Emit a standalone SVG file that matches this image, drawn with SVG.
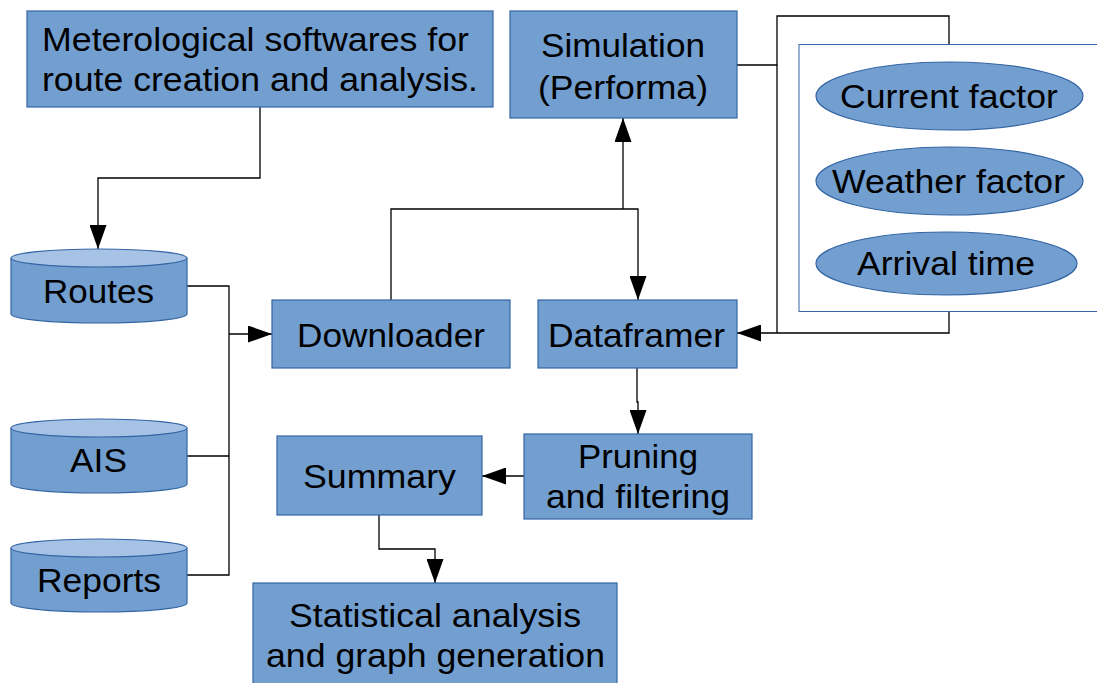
<svg xmlns="http://www.w3.org/2000/svg" width="1097" height="683" viewBox="0 0 1097 683">
  <style>
    .box { fill: #729fcf; stroke: #3465a4; stroke-width: 1.2; }
    .cyltop { fill: #a6c3e6; stroke: #3465a4; stroke-width: 1.2; }
    .panel { fill: #ffffff; stroke: #3465a4; stroke-width: 1; }
    .lbl { font-family: "Liberation Sans", Arial, sans-serif; font-size: 33px; fill: #000; text-anchor: middle; }
    .wire { fill: none; stroke: #000; stroke-width: 1.3; }
  </style>
  <defs>
    <marker id="arrow" viewBox="0 0 24 17" refX="24" refY="8.5" markerWidth="24" markerHeight="17" markerUnits="userSpaceOnUse" orient="auto">
      <path d="M0,0 L24,8.5 L0,17 Z" fill="#000"/>
    </marker>
  </defs>

  <rect width="1097" height="683" fill="#ffffff"/>

  <g id="connectors">
    <!-- software to routes -->
    <path class="wire" d="M260,107 V178 H98 V249" marker-end="url(#arrow)"/>
    <!-- data sources to downloader -->
    <path class="wire" d="M187,286 H229 V575 H187"/>
    <path class="wire" d="M187,456 H229"/>
    <path class="wire" d="M229,334 H272" marker-end="url(#arrow)"/>
    <!-- downloader to simulation and dataframer -->
    <path class="wire" d="M391,300 V209 H638 V300" marker-end="url(#arrow)"/>
    <path class="wire" d="M623,209 V118" marker-end="url(#arrow)"/>
    <!-- simulation to factors panel -->
    <path class="wire" d="M737,65 H777 V16 H949 V44"/>
    <path class="wire" d="M777,65 V333"/>
    <!-- factors panel back to dataframer -->
    <path class="wire" d="M949,311 V333 H737" marker-end="url(#arrow)"/>
    <!-- dataframer to pruning -->
    <path class="wire" d="M637,368 V402 H638 V434" marker-end="url(#arrow)"/>
    <!-- pruning to summary -->
    <path class="wire" d="M524,476 H482" marker-end="url(#arrow)"/>
    <!-- summary to statistics -->
    <path class="wire" d="M379,515 V549 H435 V583" marker-end="url(#arrow)"/>
  </g>

  <g id="software">
    <rect class="box" x="27" y="11" width="466" height="96"/>
    <text class="lbl" x="255.5" y="51" textLength="427" lengthAdjust="spacingAndGlyphs">Meterological softwares for</text>
    <text class="lbl" x="260" y="91" textLength="436" lengthAdjust="spacingAndGlyphs">route creation and analysis.</text>
  </g>

  <g id="simulation">
    <rect class="box" x="510" y="11" width="227" height="107"/>
    <text class="lbl" x="623" y="57" textLength="164" lengthAdjust="spacingAndGlyphs">Simulation</text>
    <text class="lbl" x="623" y="99" textLength="170" lengthAdjust="spacingAndGlyphs">(Performa)</text>
  </g>

  <g id="factors">
    <rect class="panel" x="799" y="44.5" width="310" height="267"/>
    <g id="current-factor">
      <ellipse class="box" cx="949.5" cy="96" rx="133.5" ry="34"/>
      <text class="lbl" x="949" y="107.5" textLength="218" lengthAdjust="spacingAndGlyphs">Current factor</text>
    </g>
    <g id="weather-factor">
      <ellipse class="box" cx="949.5" cy="181" rx="133.5" ry="34"/>
      <text class="lbl" x="948.5" y="193" textLength="233" lengthAdjust="spacingAndGlyphs">Weather factor</text>
    </g>
    <g id="arrival-time">
      <ellipse class="box" cx="946.5" cy="263.5" rx="130.5" ry="31.5"/>
      <text class="lbl" x="946" y="275" textLength="178" lengthAdjust="spacingAndGlyphs">Arrival time</text>
    </g>
  </g>

  <g id="routes">
    <path class="box" d="M11,258 V314 A88,9 0 0 0 187,314 V258"/>
    <ellipse class="cyltop" cx="99" cy="258" rx="88" ry="9"/>
    <text class="lbl" x="98.5" y="303" textLength="111" lengthAdjust="spacingAndGlyphs">Routes</text>
  </g>

  <g id="ais">
    <path class="box" d="M11,428 V484 A88,9 0 0 0 187,484 V428"/>
    <ellipse class="cyltop" cx="99" cy="428" rx="88" ry="9"/>
    <text class="lbl" x="98.5" y="472" textLength="57" lengthAdjust="spacingAndGlyphs">AIS</text>
  </g>

  <g id="reports">
    <path class="box" d="M11,548 V603 A88,9 0 0 0 187,603 V548"/>
    <ellipse class="cyltop" cx="99" cy="548" rx="88" ry="9"/>
    <text class="lbl" x="99" y="592" textLength="124" lengthAdjust="spacingAndGlyphs">Reports</text>
  </g>

  <g id="downloader">
    <rect class="box" x="272" y="300" width="238" height="68"/>
    <text class="lbl" x="391" y="347" textLength="188" lengthAdjust="spacingAndGlyphs">Downloader</text>
  </g>

  <g id="dataframer">
    <rect class="box" x="538" y="300" width="199" height="68"/>
    <text class="lbl" x="636.5" y="347" textLength="177" lengthAdjust="spacingAndGlyphs">Dataframer</text>
  </g>

  <g id="pruning">
    <rect class="box" x="524" y="434" width="228" height="85"/>
    <text class="lbl" x="638" y="468" textLength="120" lengthAdjust="spacingAndGlyphs">Pruning</text>
    <text class="lbl" x="638" y="508" textLength="184" lengthAdjust="spacingAndGlyphs">and filtering</text>
  </g>

  <g id="summary">
    <rect class="box" x="277" y="436" width="205" height="79"/>
    <text class="lbl" x="379.5" y="488" textLength="153" lengthAdjust="spacingAndGlyphs">Summary</text>
  </g>

  <g id="statistics">
    <rect class="box" x="253" y="583" width="364" height="110"/>
    <text class="lbl" x="435" y="627" textLength="292" lengthAdjust="spacingAndGlyphs">Statistical analysis</text>
    <text class="lbl" x="435.5" y="667" textLength="339" lengthAdjust="spacingAndGlyphs">and graph generation</text>
  </g>
</svg>
